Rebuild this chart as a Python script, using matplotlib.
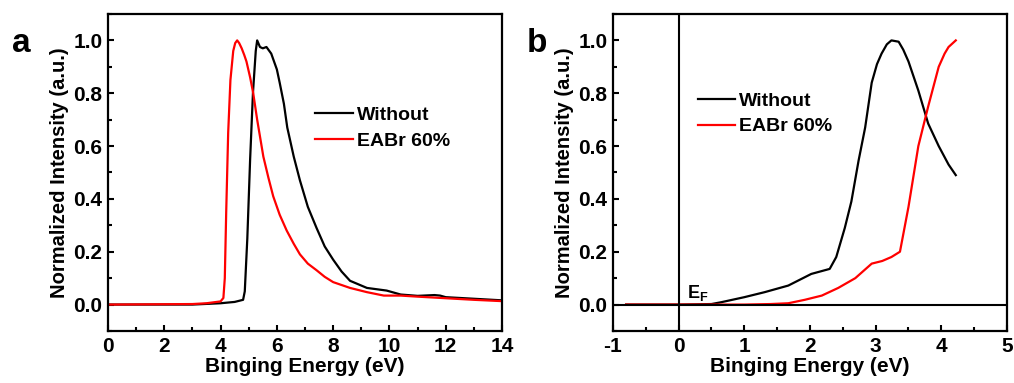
import matplotlib
matplotlib.use('Agg')
import matplotlib.pyplot as plt
from matplotlib.ticker import MultipleLocator

plt.rcParams['font.family'] = ['Liberation Sans', 'DejaVu Sans']
plt.rcParams['font.weight'] = 'bold'
plt.rcParams['axes.unicode_minus'] = False
plt.rcParams['mathtext.fontset'] = 'custom'
plt.rcParams['mathtext.rm'] = 'Liberation Sans:bold'
plt.rcParams['mathtext.bf'] = 'Liberation Sans:bold'

# panel a: secondary electron cutoff
a_without_x = [0, 3.0, 4.0, 4.5, 4.8, 4.86, 4.95, 5.05, 5.15, 5.25, 5.3, 5.4, 5.5, 5.63, 5.8,
               6.0, 6.1, 6.25, 6.37, 6.6, 6.82, 7.1, 7.41, 7.7, 8.0, 8.3, 8.6, 9.2,
               9.9, 10.4, 11.0, 11.6, 11.8, 12.0, 13.0, 14.0]
a_without_y = [0, 0.0, 0.005, 0.01, 0.018, 0.05, 0.25, 0.55, 0.8, 0.96, 1.0, 0.975, 0.97, 0.975, 0.95,
               0.89, 0.84, 0.76, 0.67, 0.56, 0.47, 0.37, 0.29, 0.22, 0.17, 0.125, 0.09, 0.063,
               0.053, 0.038, 0.033, 0.036, 0.034, 0.028, 0.022, 0.016]
a_eabr_x = [0, 3.0, 3.5, 4.0, 4.1, 4.15, 4.2, 4.27, 4.35, 4.45, 4.52, 4.59, 4.66, 4.75, 4.84, 4.92, 5.05,
            5.16, 5.3, 5.52, 5.7, 5.87, 6.1, 6.35, 6.6, 6.82, 7.1, 7.41, 7.7, 8.0, 8.6,
            9.2, 9.8, 10.4, 11.0, 12.0, 13.0, 14.0]
a_eabr_y = [0, 0.002, 0.005, 0.012, 0.025, 0.1, 0.35, 0.65, 0.85, 0.96, 0.99, 1.0, 0.99, 0.97, 0.945, 0.92, 0.86,
            0.8, 0.7, 0.56, 0.48, 0.41, 0.34, 0.28, 0.23, 0.19, 0.155, 0.13, 0.105, 0.085, 0.063,
            0.047, 0.034, 0.034, 0.03, 0.024, 0.018, 0.013]

# panel b: valence band region
b_without_x = [-0.8, 0.0, 0.5, 0.65, 1.0, 1.31, 1.67, 2.02, 2.3, 2.4, 2.53, 2.63, 2.74, 2.84,
               2.94, 3.02, 3.09, 3.17, 3.24, 3.35, 3.42, 3.5, 3.65, 3.8, 3.96, 4.11, 4.22]
b_without_y = [0, 0, 0.002, 0.009, 0.028, 0.047, 0.072, 0.116, 0.135, 0.18, 0.29, 0.39, 0.545, 0.67,
               0.84, 0.91, 0.95, 0.985, 1.0, 0.995, 0.965, 0.92, 0.81, 0.685, 0.6, 0.53, 0.49]
b_eabr_x = [-0.8, 0.0, 1.0, 1.4, 1.67, 1.92, 2.18, 2.43, 2.69, 2.94, 3.1, 3.24, 3.37, 3.5,
            3.65, 3.8, 3.96, 4.05, 4.11, 4.22]
b_eabr_y = [0, 0, 0.0, 0.002, 0.005, 0.018, 0.034, 0.063, 0.1, 0.155, 0.165, 0.18, 0.2, 0.37,
            0.6, 0.75, 0.9, 0.95, 0.975, 1.0]

labels = ['Without', 'EABr 60%']
colors = ['black', 'red']

fig = plt.figure(figsize=(10.14, 3.83), dpi=100)
ax_a = fig.add_axes([0.1065, 0.1358, 0.3886, 0.8277])
ax_b = fig.add_axes([0.6045, 0.1358, 0.3886, 0.8277])

ax_a.plot(a_without_x, a_without_y, color=colors[0], lw=1.6, label=labels[0])
ax_a.plot(a_eabr_x, a_eabr_y, color=colors[1], lw=1.6, label=labels[1])
ax_b.plot(b_without_x, b_without_y, color=colors[0], lw=1.6, label=labels[0])
ax_b.plot(b_eabr_x, b_eabr_y, color=colors[1], lw=1.6, label=labels[1])
ax_b.axvline(0, color='black', lw=1.5)
ax_b.axhline(0, color='black', lw=1.5)
ax_b.text(0.12, 0.025, r'E$_\mathregular{F}$', fontsize=13, fontweight='bold')

ax_a.set_xlim(0, 14)
ax_a.xaxis.set_major_locator(MultipleLocator(2))
ax_a.xaxis.set_minor_locator(MultipleLocator(1))
ax_b.set_xlim(-1, 5)
ax_b.xaxis.set_major_locator(MultipleLocator(1))
ax_b.xaxis.set_minor_locator(MultipleLocator(0.5))

for ax, leg_pos in [(ax_a, (0.5, 0.64)), (ax_b, (0.19, 0.685))]:
    ax.set_ylim(-0.1, 1.1)
    ax.yaxis.set_minor_locator(MultipleLocator(0.1))
    ax.set_yticks([0.0, 0.2, 0.4, 0.6, 0.8, 1.0])
    ax.set_xlabel('Binging Energy (eV)', fontsize=15, fontweight='bold', labelpad=1)
    ax.set_ylabel('Normalized Intensity (a.u.)', fontsize=14.5, fontweight='bold', labelpad=3)
    ax.tick_params(which='both', direction='in', labelsize=15, width=1.5)
    ax.tick_params(which='major', length=4, pad=4)
    ax.tick_params(which='minor', length=3)
    for s in ax.spines.values():
        s.set_linewidth(1.6)
    ax.legend(loc='center left', bbox_to_anchor=leg_pos, frameon=False, fontsize=14,
              handlelength=1.95, handletextpad=0.2, labelspacing=0.4, borderpad=0)

fig.text(0.012, 0.864, 'a', fontsize=24, fontweight='bold')
fig.text(0.519, 0.864, 'b', fontsize=24, fontweight='bold')

plt.savefig('out.png', dpi=100)
